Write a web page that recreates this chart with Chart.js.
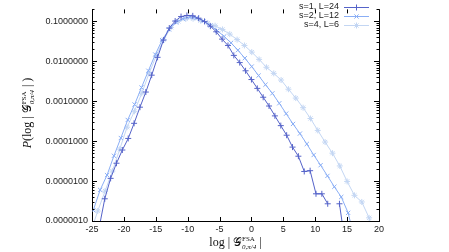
<!DOCTYPE html>
<html>
<head>
<meta charset="utf-8">
<script src="https://cdn.jsdelivr.net/npm/chart.js@4"></script>
<style>
  html, body { margin: 0; padding: 0; background: #fff; }
</style>
</head>
<body>
<canvas id="chart" width="449" height="252"></canvas>
<script>
// tick labels
const xTicks = [-25, -20, -15, -10, -5, 0, 5, 10, 15, 20];
const yTicks = [1e-6, 1e-5, 1e-4, 1e-3, 1e-2, 1e-1];
const seriesNames = ['s=1, L=24', 's=2, L=12', 's=4, L=6'];

// s=1, L=24
const xS1 = [-23.92, -23.0, -22.08, -21.16, -20.24, -19.32, -18.4, -17.48, -16.56, -15.64,
             -14.72, -13.8, -12.88, -11.96, -11.04, -10.12, -9.2, -8.28, -7.36, -6.44,
             -5.52, -4.6, -3.68, -2.76, -1.84, -0.92, 0.0, 0.92, 1.84, 2.76,
             3.68, 4.6, 5.52, 6.44, 7.36, 8.28, 9.2, 10.12, 11.04, 11.96,
             12.88, 13.8, 14.72];
const pS1 = [6.3e-7, 3.6e-6, 1.17e-5, 2.8e-5, 6.0e-5, 1.17e-4, 2.8e-4, 7.1e-4, 1.7e-3, 4.5e-3,
             1.26e-2, 3.4e-2, 6.8e-2, 0.102, 0.132, 0.141, 0.138, 0.120, 0.100, 0.076,
             0.055, 0.036, 0.025, 0.0141, 0.0093, 0.0058, 0.0035, 0.0021, 0.00126, 0.00076,
             0.00043, 0.000245, 0.000141, 7.1e-5, 4.2e-5, 1.74e-5, 1.82e-5, 4.8e-6, 4.8e-6, 2.7e-6,
             null, 2.7e-6, 2.5e-7];

// s=2, L=12
const xS2 = [-24.8, -23.72, -22.64, -21.56, -20.48, -19.4, -18.32, -17.24, -16.16, -15.08,
             -14.0, -12.92, -11.84, -10.76, -9.68, -8.6, -7.52, -6.44, -5.36, -4.28,
             -3.2, -2.12, -1.04, 0.04, 1.12, 2.2, 3.28, 4.36, 5.44, 6.52,
             7.6, 8.68, 9.76, 10.84, 11.92, 13.0, 14.08, 15.16, 16.24];
const pS2 = [1.86e-6, 6.0e-6, 1.41e-5, 4.3e-5, 1.2e-4, 3.4e-4, 8.3e-4, 2.2e-3, 5.8e-3, 0.0148,
             0.034, 0.063, 0.095, 0.117, 0.129, 0.123, 0.102, 0.079, 0.059, 0.042,
             0.029, 0.019, 0.012, 0.0074, 0.0044, 0.0026, 0.00158, 0.00089, 0.00049, 0.00027,
             0.000155, 8.5e-5, 4.5e-5, 2.5e-5, 1.35e-5, 7.2e-6, 4.0e-6, 1.6e-6, 3.2e-7];

// s=4, L=6
const xS4 = [-25.25, -24.1, -22.95, -21.8, -20.65, -19.5, -18.35, -17.2, -16.05, -14.9,
             -13.75, -12.6, -11.45, -10.3, -9.15, -8.0, -6.85, -5.7, -4.55, -3.4,
             -2.25, -1.1, 0.05, 1.2, 2.35, 3.5, 4.65, 5.8, 6.95, 8.1,
             9.25, 10.4, 11.55, 12.7, 13.85, 15.0, 16.15, 17.3, 18.45, 19.6];
const pS4 = [5.0e-7, 1.78e-6, 5.6e-6, 1.78e-5, 6.3e-5, 2.24e-4, 5.6e-4, 1.58e-3, 5.0e-3, 0.0141,
             0.035, 0.071, 0.100, 0.115, 0.117, 0.105, 0.091, 0.078, 0.063, 0.048,
             0.035, 0.025, 0.017, 0.0112, 0.0071, 0.005, 0.0034, 0.002, 0.0012, 0.00069,
             0.00037, 0.000186, 9.5e-5, 5.0e-5, 2.4e-5, 9.8e-6, 4.4e-6, 3.0e-6, 1.2e-6, 2.5e-7];

const colors = ['#5563c9', '#8aaef5', '#c3d6f3'];
const styles = ['cross', 'crossRot', 'star'];

const pts = (xs, ps) => xs.map((x, i) => ({ x, y: ps[i] }));

function series(i, xs, ps) {
    return {
        label: seriesNames[i],
        data: pts(xs, ps),
        borderColor: colors[i],
        backgroundColor: colors[i],
        borderWidth: 1,
        pointStyle: styles[i],
        pointRadius: 3,
        pointBorderWidth: 1,
        pointHoverRadius: 3,
        tension: 0,
        spanGaps: false,
    };
}

// draws "pieces" of a math label; {sup, sub} pieces are stacked
function mathLabel(ctx, cx, cy, pieces) {
    const widthOf = (p) => {
        if (p.t !== undefined) { ctx.font = p.f; return ctx.measureText(p.t).width; }
        ctx.font = p.f; const a = ctx.measureText(p.sup).width;
        ctx.font = p.fs; const b = ctx.measureText(p.sub).width;
        return Math.max(a, b);
    };
    const total = pieces.reduce((s, p) => s + widthOf(p), 0);
    let x = cx - total / 2;
    ctx.textAlign = 'left';
    ctx.textBaseline = 'alphabetic';
    pieces.forEach((p) => {
        const w = widthOf(p);
        if (p.t !== undefined) {
            ctx.font = p.f; ctx.fillText(p.t, x, cy);
        } else {
            ctx.font = p.f; ctx.fillText(p.sup, x, cy - 5);
            ctx.font = p.fs; ctx.fillText(p.sub, x, cy + 3);
        }
        x += w;
    });
}

const serif = '"Liberation Serif", "DejaVu Serif", serif';
const mainF = '12px ' + serif;
const gF = '12px "DejaVu Serif", "DejaVu Sans", ' + serif;
const supsub = { f: '7px ' + serif, fs: 'italic 7px ' + serif, sup: 'FSA', sub: '0,π/4' };

const decorations = {
    id: 'decorations',
    afterDraw(chart) {
        const { ctx, chartArea: a, scales: { x, y } } = chart;
        ctx.save();
        ctx.strokeStyle = '#000';
        ctx.lineWidth = 1;
        ctx.beginPath();
        ctx.moveTo(a.right + 0.5, a.top);
        ctx.lineTo(a.right + 0.5, a.bottom);
        xTicks.forEach((v) => {
            const px = Math.round(x.getPixelForValue(v)) + 0.5;
            ctx.moveTo(px, a.bottom); ctx.lineTo(px, a.bottom - 4);
            ctx.moveTo(px, a.top); ctx.lineTo(px, a.top + 4);
        });
        yTicks.forEach((d) => {
            [1, 2, 3, 4, 5, 6, 7, 8, 9].forEach((m) => {
                const v = d * m;
                if (v > y.max) return;
                const py = Math.round(y.getPixelForValue(v)) + 0.5;
                const len = m === 1 ? 5 : 2.5;
                ctx.moveTo(a.left, py); ctx.lineTo(a.left + len, py);
                ctx.moveTo(a.right, py); ctx.lineTo(a.right - len, py);
            });
        });
        ctx.stroke();

        // legend: text right-aligned, sample line to the right
        ctx.font = '9px "Liberation Sans", Arial, sans-serif';
        ctx.textAlign = 'right';
        ctx.textBaseline = 'middle';
        seriesNames.forEach((name, i) => {
            const ly = 7 + i * 9;
            ctx.fillStyle = '#222';
            ctx.fillText(name, 339, ly);
            ctx.strokeStyle = colors[i];
            ctx.beginPath();
            ctx.moveTo(344, ly + 0.5); ctx.lineTo(369, ly + 0.5);
            ctx.stroke();
            Chart.helpers.drawPoint(ctx, { pointStyle: styles[i], radius: 3, borderWidth: 1 }, 356.5, ly + 0.5);
        });

        // axis titles
        ctx.fillStyle = '#111';
        mathLabel(ctx, (a.left + a.right) / 2, 246, [
            { t: 'log | ', f: mainF }, { t: '𝒢', f: gF }, supsub, { t: ' |', f: mainF },
        ]);
        ctx.translate(31, 113);
        ctx.rotate(-Math.PI / 2);
        mathLabel(ctx, 0, 0, [
            { t: 'P', f: 'italic ' + mainF }, { t: '(log | ', f: mainF }, { t: '𝒢', f: gF },
            supsub, { t: ' | )', f: mainF },
        ]);
        ctx.restore();
    },
};

const tickFont = { family: '"Liberation Sans", Arial, sans-serif', size: 9 };

new Chart(document.getElementById('chart'), {
    type: 'line',
    data: {
        datasets: [series(0, xS1, pS1), series(1, xS2, pS2), series(2, xS4, pS4)],
    },
    options: {
        responsive: false,
        animation: false,
        devicePixelRatio: 1,
        layout: { padding: { left: 0, right: 70, top: 0, bottom: 0 } },
        plugins: { legend: { display: false }, tooltip: { enabled: false } },
        scales: {
            x: {
                type: 'linear',
                min: -25,
                max: 20,
                afterBuildTicks: (s) => { s.ticks = xTicks.map((v) => ({ value: v })); },
                afterFit: (s) => { s.height = 31; },
                grid: { display: true, drawOnChartArea: false, drawTicks: false },
                border: { display: true, color: '#000', width: 1 },
                ticks: { font: tickFont, color: '#222', padding: 3, maxRotation: 0 },
            },
            y: {
                type: 'logarithmic',
                min: 1e-6,
                max: 0.2,
                afterBuildTicks: (s) => { s.ticks = yTicks.map((v) => ({ value: v })); },
                afterFit: (s) => { s.width = 92; },
                grid: { display: true, drawOnChartArea: false, drawTicks: false },
                border: { display: true, color: '#000', width: 1 },
                ticks: { font: tickFont, color: '#222', padding: 4, callback: (v) => Number(v).toFixed(7) },
            },
        },
    },
    plugins: [decorations],
});
</script>
</body>
</html>
